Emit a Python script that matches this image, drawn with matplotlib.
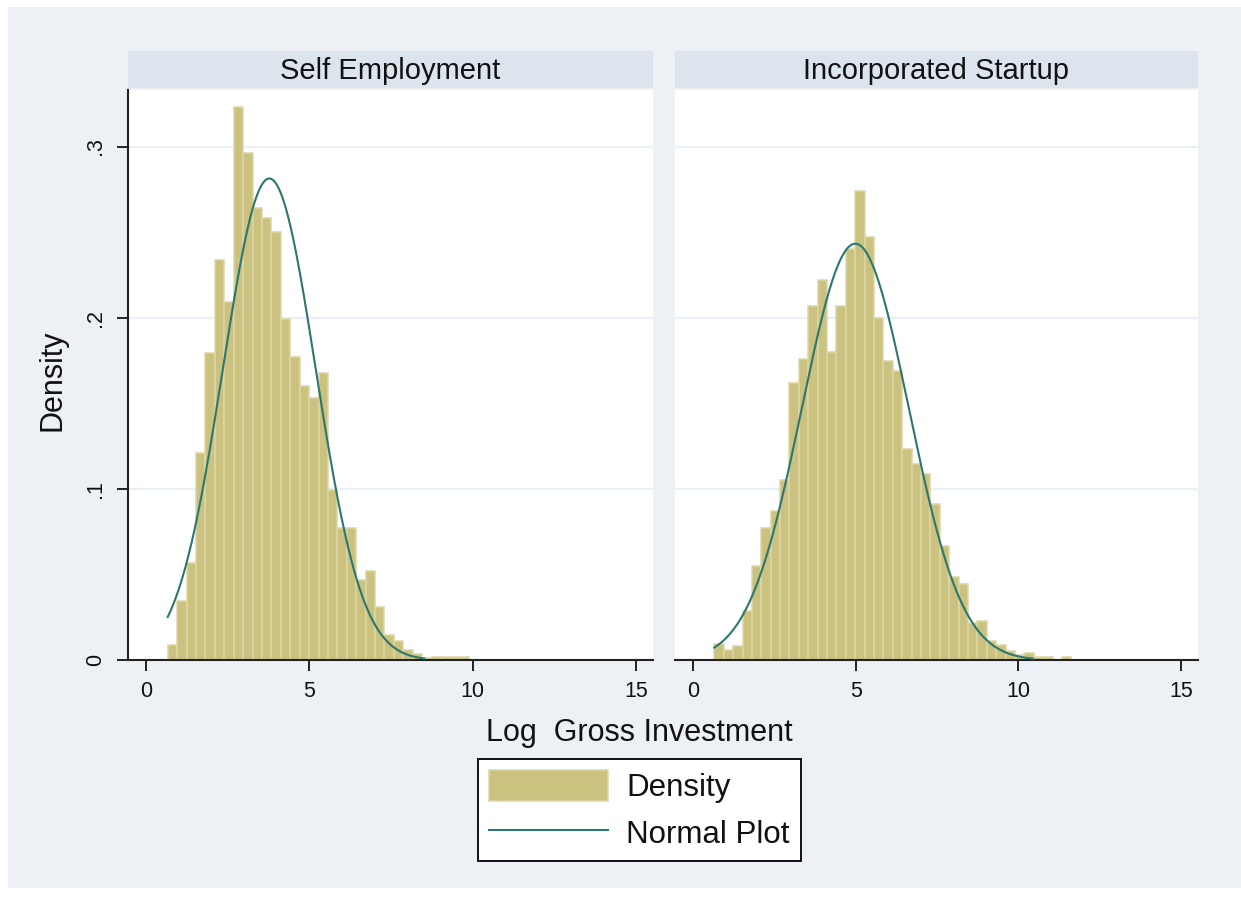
import numpy as np
import matplotlib
matplotlib.use("Agg")
import matplotlib.pyplot as plt
from matplotlib.patches import Patch, Rectangle
from matplotlib.lines import Line2D

# ---------------- data ----------------
panel_titles = ["Self Employment", "Incorporated Startup"]
bin_start = 0.658
bin_width = 0.2887

self_emp_density = [0.009, 0.0345, 0.0566, 0.121, 0.1795, 0.234, 0.2095, 0.323,
                    0.296, 0.264, 0.258, 0.250, 0.199, 0.177, 0.160, 0.153,
                    0.168, 0.0995, 0.077, 0.077, 0.047, 0.052, 0.031, 0.015,
                    0.0115, 0.0058, 0.0038, 0.0015, 0.0017, 0.0017, 0.0017, 0.0017]

inc_startup_density = [0.0095, 0.006, 0.0085, 0.029, 0.055, 0.077, 0.087, 0.105,
                       0.162, 0.176, 0.207, 0.222, 0.180, 0.207, 0.240, 0.274,
                       0.247, 0.200, 0.175, 0.169, 0.1236, 0.1145, 0.1087, 0.0913,
                       0.067, 0.0487, 0.0445, 0.022, 0.023, 0.0115, 0.009, 0.0055,
                       0.003, 0.0045, 0.002, 0.002, 0.0, 0.002]

normal_mean = [3.77, 4.99]
normal_sd = [1.418, 1.64]
curve_lo = [0.658, 0.658]
curve_hi = [8.52, 10.45]

x_ticks = [0, 5, 10, 15]
y_ticks = [0, 0.1, 0.2, 0.3]
y_tick_labels = ["0", ".1", ".2", ".3"]
x_title = "Log  Gross Investment"
y_title = "Density"
legend_labels = ["Density", "Normal Plot"]

# ---------------- style ----------------
plt.rcParams["font.family"] = ["Liberation Sans", "DejaVu Sans"]
BG = "#EDF1F6"
STRIP = "#DCE4EE"
GRID = "#EAF0F5"
BAR_FC = "#CBC27F"
BAR_EC = "#DCD6A6"
LINE_C = "#2C776E"
TXT = "#111111"

W, H = 1241, 900
fig = plt.figure(figsize=(W / 100, H / 100), dpi=100, facecolor="white")

def fx(px):
    return px / W

def fy(py):
    return 1 - py / H

# outer graph region
fig.patches.append(Rectangle((fx(8), fy(888)), fx(W) - fx(8), fy(7) - fy(888),
                             transform=fig.transFigure, facecolor=BG,
                             edgecolor="none", zorder=-10))

panel_x = [(128.3, 652.5), (675.0, 1197.7)]
y_top, y_bot = 89.5, 660.3
strip_top, strip_bot = 51.0, 88.3

data_sets = [self_emp_density, inc_startup_density]

for i in range(2):
    x0, x1 = panel_x[i]
    ax = fig.add_axes([fx(x0), fy(y_bot), fx(x1) - fx(x0), fy(y_top) - fy(y_bot)])
    ax.set_zorder(1)
    ax.set_facecolor("white")
    dens = np.array(data_sets[i])
    lefts = bin_start + np.arange(len(dens)) * bin_width
    ax.bar(lefts, dens, width=bin_width, align="edge", color=BAR_FC,
           edgecolor=BAR_EC, linewidth=1.1, zorder=2)
    xs = np.linspace(curve_lo[i], curve_hi[i], 300)
    ys = np.exp(-0.5 * ((xs - normal_mean[i]) / normal_sd[i]) ** 2) / (normal_sd[i] * np.sqrt(2 * np.pi))
    ax.plot(xs, ys, color=LINE_C, linewidth=1.5, zorder=3)

    ax.set_xlim(-0.55, 15.51)
    ax.set_ylim(0, 0.3333)
    for yv in y_ticks[1:]:
        ax.axhline(yv, color=GRID, linewidth=1.6, zorder=1)

    for s in ["top", "right"]:
        ax.spines[s].set_visible(False)
    ax.spines["bottom"].set_linewidth(1.5)
    ax.spines["bottom"].set_color("#222222")
    ax.set_xticks(x_ticks)
    ax.set_xticklabels([str(t) for t in x_ticks])
    ax.tick_params(axis="x", length=8, width=1.4, colors="#222222", pad=7,
                   labelsize=15.5, labelcolor=TXT)
    if i == 0:
        ax.spines["left"].set_linewidth(1.5)
        ax.spines["left"].set_color("#222222")
        ax.set_yticks(y_ticks)
        ax.set_yticklabels(y_tick_labels, rotation=90, va="center")
        ax.tick_params(axis="y", length=8, width=1.4, colors="#222222", pad=8,
                       labelsize=15.5, labelcolor=TXT)
    else:
        ax.spines["left"].set_visible(False)
        ax.set_yticks([])

    # strip header
    fig.patches.append(Rectangle((fx(x0), fy(strip_bot)), fx(x1) - fx(x0),
                                 fy(strip_top) - fy(strip_bot),
                                 transform=fig.transFigure, facecolor=STRIP,
                                 edgecolor="none", zorder=-5))
    fig.text(fx((x0 + x1) / 2), fy((strip_top + strip_bot) / 2 + 1), panel_titles[i],
             ha="center", va="center", fontsize=21, color=TXT)

fig.text(fx(639), fy(733), x_title, ha="center", va="center", fontsize=22, color=TXT)
fig.text(fx(52), fy(380), y_title, ha="center", va="center", rotation=90,
         fontsize=22, color=TXT)

handles = [Patch(facecolor=BAR_FC, edgecolor=BAR_EC, linewidth=1.1),
           Line2D([0], [0], color=LINE_C, linewidth=1.5)]
leg = fig.legend(handles, legend_labels, loc="center",
                 bbox_to_anchor=(fx(639.5), fy(810)), fontsize=22.5,
                 frameon=True, fancybox=False, framealpha=1, edgecolor="#111111",
                 handlelength=3.8, handleheight=1.15, handletextpad=0.6,
                 borderpad=0.35, labelspacing=0.45, borderaxespad=0)
leg.get_frame().set_linewidth(1.4)
leg.set_zorder(5)
for t in leg.get_texts():
    t.set_color(TXT)

fig.savefig("out.png", dpi=100, facecolor="white")
